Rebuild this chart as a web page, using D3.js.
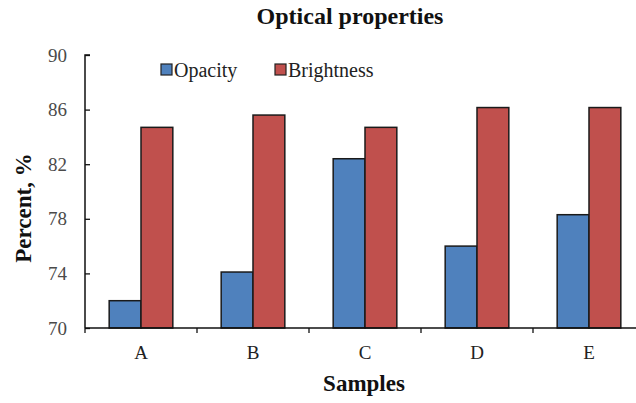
<!DOCTYPE html>
<html>
<head>
<meta charset="utf-8">
<script src="https://cdn.jsdelivr.net/npm/d3@7"></script>
<style>
  html, body { margin: 0; padding: 0; background: #fff; }
  svg { display: block; }
  text { font-family: "Liberation Serif", "Times New Roman", serif; }
</style>
</head>
<body>
<svg id="chart" width="636" height="403"></svg>
<script>
const categories = ["A", "B", "C", "D", "E"];
const seriesNames = ["Opacity", "Brightness"];
const opacity = [72.0, 74.1, 82.4, 76.0, 78.3];
const brightness = [84.7, 85.6, 84.7, 86.15, 86.15];
const yTicks = [70, 74, 78, 82, 86, 90];
const colors = ["#4F81BD", "#C0504D"];

(function () {
const svg = d3.select("#chart");
const mLeft = 85, mRight = 645, mTop = 55, mBottom = 328;

const x = d3.scaleBand().domain(categories).range([mLeft, mRight]).paddingInner(0).paddingOuter(0);
const xInner = d3.scaleBand().domain(seriesNames).range([0, x.bandwidth()]).paddingInner(0).paddingOuter(0.76);
const y = d3.scaleLinear().domain([70, 90]).range([mBottom, mTop]);

const data = categories.map((c, i) => ({ cat: c, values: [opacity[i], brightness[i]] }));

// bars
const groups = svg.append("g").selectAll("g").data(data).join("g")
  .attr("transform", d => `translate(${x(d.cat)},0)`);
groups.selectAll("rect").data(d => d.values.map((v, j) => ({ name: seriesNames[j], v, j })))
  .join("rect")
  .attr("x", d => xInner(d.name))
  .attr("width", xInner.bandwidth())
  .attr("y", d => y(d.v))
  .attr("height", d => y(70) - y(d.v))
  .attr("fill", d => colors[d.j])
  .attr("stroke", "#1a1a1a")
  .attr("stroke-width", 1.5);

// y axis (inward ticks)
const yAxis = d3.axisRight(y).tickValues(yTicks).tickSize(5).tickFormat("");
const gy = svg.append("g").attr("transform", `translate(${mLeft},0)`).call(yAxis);
gy.select(".domain").attr("d", `M5,${mTop}H0V${mBottom}`).attr("stroke", "#111").attr("stroke-width", 1.5);
gy.selectAll(".tick line").attr("stroke", "#111").attr("stroke-width", 1.3);
svg.append("g").selectAll("text").data(yTicks).join("text")
  .attr("x", 67).attr("y", d => y(d)).attr("dy", "0.35em")
  .attr("text-anchor", "end").attr("font-size", 19).attr("fill", "#4a4a4a")
  .text(d => d);

// x axis
const xAxis = d3.axisBottom(x).tickSize(0).tickFormat("");
const gx = svg.append("g").attr("transform", `translate(0,${mBottom})`).call(xAxis);
gx.select(".domain").attr("d", `M${mLeft},0H${mRight}`).attr("stroke", "#111").attr("stroke-width", 1.5);
gx.selectAll(".tick").remove();
const bounds = categories.slice(1).map(c => x(c));
gx.selectAll(".bt").data(bounds).join("line").attr("class", "bt")
  .attr("x1", d => d).attr("x2", d => d).attr("y1", 0).attr("y2", 5)
  .attr("stroke", "#111").attr("stroke-width", 1.3);
gx.append("line").attr("x1", mLeft).attr("x2", mLeft).attr("y1", 0).attr("y2", 5)
  .attr("stroke", "#111").attr("stroke-width", 1.3);
svg.append("g").selectAll("text").data(categories).join("text")
  .attr("x", d => x(d) + x.bandwidth() / 2).attr("y", 359)
  .attr("text-anchor", "middle").attr("font-size", 19).attr("fill", "#222")
  .text(d => d);

// title
svg.append("text").attr("x", 350).attr("y", 24).attr("text-anchor", "middle")
  .attr("font-size", 24).attr("font-weight", "bold").attr("fill", "#111")
  .text("Optical properties");

// axis titles
svg.append("text").attr("x", 364).attr("y", 391).attr("text-anchor", "middle")
  .attr("font-size", 23).attr("font-weight", "bold").attr("fill", "#111")
  .text("Samples");
svg.append("text").attr("transform", "translate(31,208) rotate(-90)").attr("text-anchor", "middle")
  .attr("font-size", 23).attr("font-weight", "bold").attr("fill", "#111")
  .text("Percent, %");

// legend
const legendX = [161, 275];
const lg = svg.append("g").selectAll("g").data(seriesNames).join("g")
  .attr("transform", (d, i) => `translate(${legendX[i]},64)`);
lg.append("rect").attr("width", 11).attr("height", 11)
  .attr("fill", (d, i) => colors[i]).attr("stroke", "#222").attr("stroke-width", 1.2);
lg.append("text").attr("x", 13).attr("y", 13).attr("font-size", 20).attr("fill", "#222")
  .text(d => d);
})();
</script>
</body>
</html>
